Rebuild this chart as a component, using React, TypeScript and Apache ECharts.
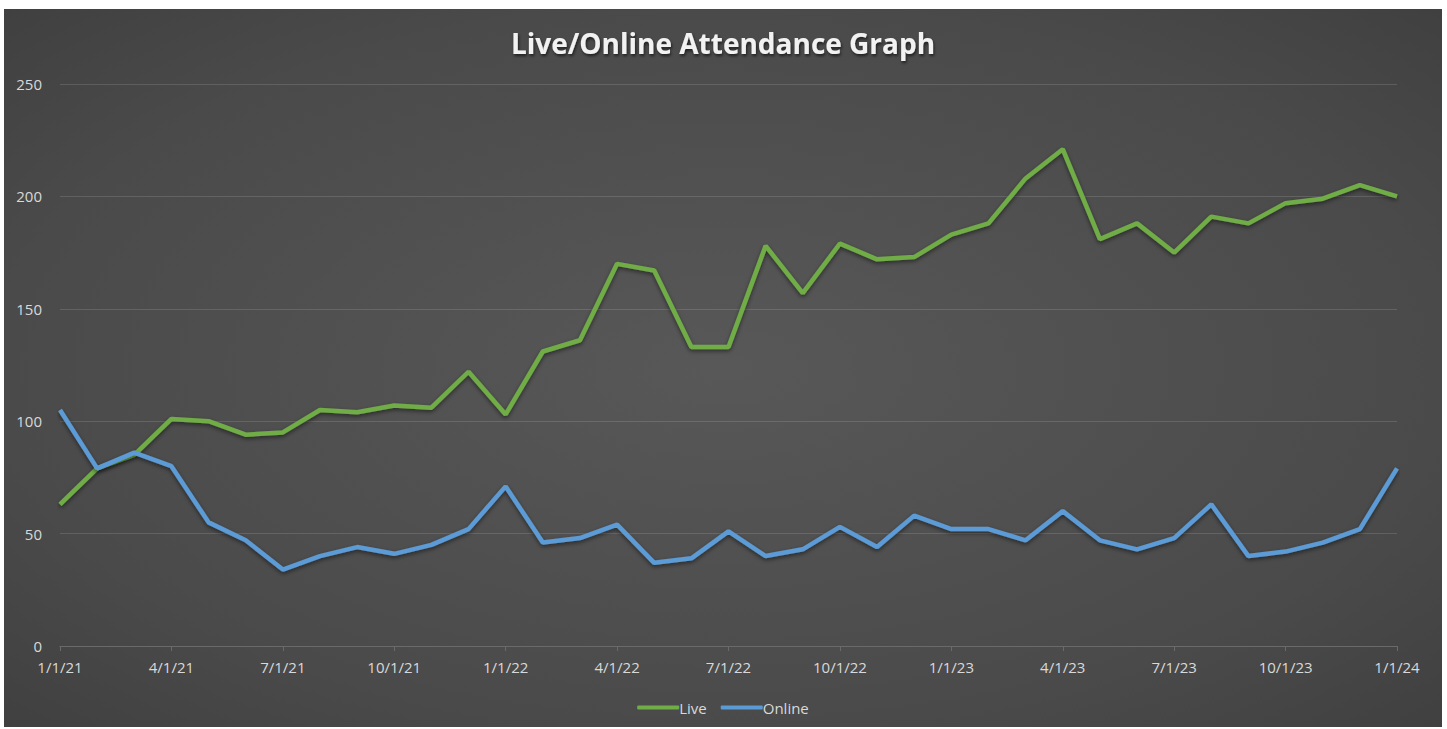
import React, { useEffect, useRef } from "react";
import * as echarts from "echarts";

const months: string[] = [
  "1/1/21", "2/1/21", "3/1/21", "4/1/21", "5/1/21", "6/1/21", "7/1/21", "8/1/21", "9/1/21", "10/1/21", "11/1/21", "12/1/21",
  "1/1/22", "2/1/22", "3/1/22", "4/1/22", "5/1/22", "6/1/22", "7/1/22", "8/1/22", "9/1/22", "10/1/22", "11/1/22", "12/1/22",
  "1/1/23", "2/1/23", "3/1/23", "4/1/23", "5/1/23", "6/1/23", "7/1/23", "8/1/23", "9/1/23", "10/1/23", "11/1/23", "12/1/23",
  "1/1/24",
];

const liveValues: number[] = [
  63, 79, 85, 101, 100, 94, 95, 105, 104, 107, 106, 122,
  103, 131, 136, 170, 167, 133, 133, 178, 157, 179, 172, 173,
  183, 188, 208, 221, 181, 188, 175, 191, 188, 197, 199, 205,
  200,
];

const onlineValues: number[] = [
  105, 79, 86, 80, 55, 47, 34, 40, 44, 41, 45, 52,
  71, 46, 48, 54, 37, 39, 51, 40, 43, 53, 44, 58,
  52, 52, 47, 60, 47, 43, 48, 63, 40, 42, 46, 52,
  79,
];

const yTicks = { min: 0, max: 250, interval: 50 };

export default function App() {
  const ref = useRef<HTMLDivElement>(null);
  useEffect(() => {
    if (!ref.current) return;
    const chart = echarts.init(ref.current, undefined, { renderer: "svg" });
    const labelColor = "#d9d9d9";
    chart.setOption({
      animation: false,
      backgroundColor: new echarts.graphic.RadialGradient(0.5, 0.5, 1.12, [
        { offset: 0, color: "#585858" },
        { offset: 0.45, color: "#4a4a4a" },
        { offset: 0.85, color: "#343434" },
        { offset: 1, color: "#262626" },
      ]),
      title: {
        text: "Live/Online Attendance Graph",
        left: "center",
        top: 15,
        textStyle: {
          color: "#f2f2f2",
          fontFamily: "Open Sans",
          fontWeight: "bold",
          fontSize: 28,
          textShadowColor: "rgba(0,0,0,0.6)",
          textShadowBlur: 3,
          textShadowOffsetX: 1,
          textShadowOffsetY: 2,
        },
      },
      legend: {
        data: ["Live", "Online"],
        left: "center",
        top: 686,
        icon: "roundRect",
        itemWidth: 42,
        itemHeight: 4,
        itemGap: 14,
        textStyle: { color: labelColor, fontSize: 15, fontFamily: "Open Sans", padding: [0, 0, 0, -5] },
      },
      grid: { left: 56, right: 45, top: 75, bottom: 81, containLabel: false },
      xAxis: {
        type: "category",
        data: months,
        boundaryGap: false,
        axisLine: { lineStyle: { color: "#6a6a6a", width: 1 } },
        axisTick: { show: true, interval: 2, length: 5, lineStyle: { color: "#6a6a6a" } },
        axisLabel: { interval: 2, color: labelColor, fontSize: 15, fontFamily: "Open Sans", margin: 13 },
        splitLine: { show: false },
      },
      yAxis: {
        type: "value",
        min: yTicks.min,
        max: yTicks.max,
        interval: yTicks.interval,
        axisLine: { show: false },
        axisTick: { show: false },
        axisLabel: { color: labelColor, fontSize: 15, fontFamily: "Open Sans", margin: 18 },
        splitLine: { lineStyle: { color: "rgba(255,255,255,0.13)", width: 1 } },
      },
      series: [
        {
          name: "Live",
          type: "line",
          data: liveValues,
          symbol: "none",
          itemStyle: { color: "#70ad47" },
          lineStyle: {
            color: "#70ad47",
            width: 4.5,
            shadowColor: "rgba(0,0,0,0.5)",
            shadowBlur: 4,
            shadowOffsetY: 2,
          },
        },
        {
          name: "Online",
          type: "line",
          data: onlineValues,
          symbol: "none",
          itemStyle: { color: "#5b9bd5" },
          lineStyle: {
            color: "#5b9bd5",
            width: 4.5,
            shadowColor: "rgba(0,0,0,0.5)",
            shadowBlur: 4,
            shadowOffsetY: 2,
          },
        },
      ],
    });
    return () => chart.dispose();
  }, []);
  return (
    <div
      ref={ref}
      style={{ position: "absolute", left: 4, top: 9, width: 1438, height: 718 }}
    />
  );
}
